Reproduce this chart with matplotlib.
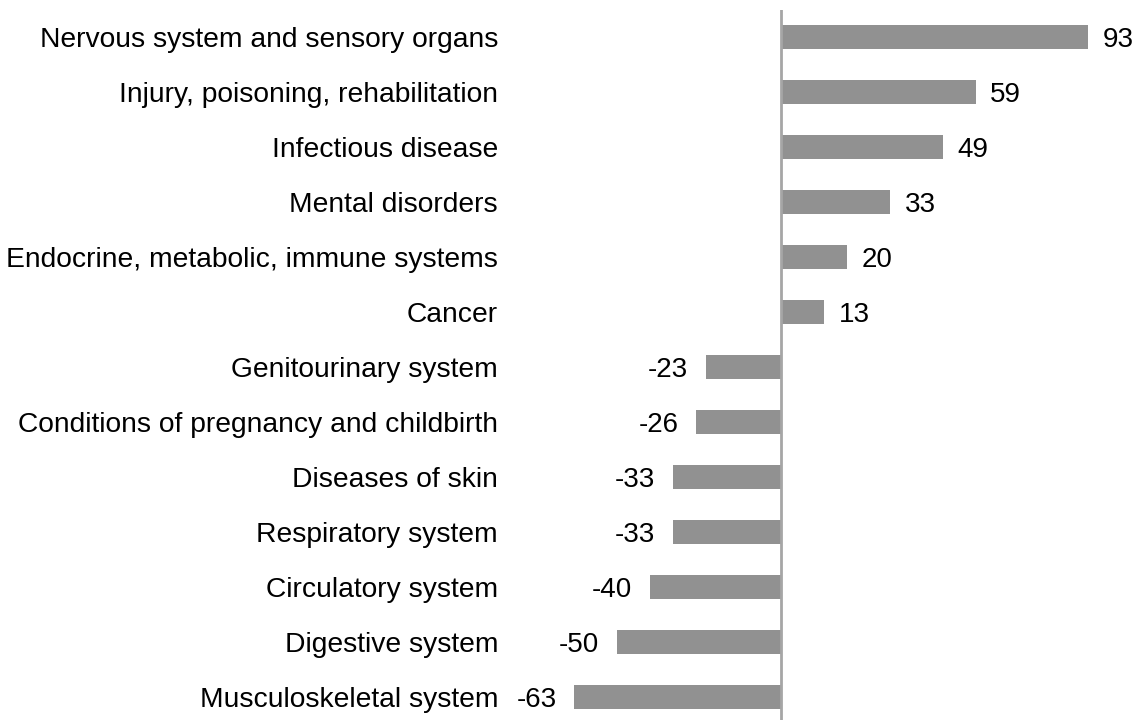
import matplotlib
matplotlib.use("Agg")
import matplotlib.pyplot as plt

# ============================================================
# Data
# ============================================================

categories = [
    "Nervous system and sensory organs",
    "Injury, poisoning, rehabilitation",
    "Infectious disease",
    "Mental disorders",
    "Endocrine, metabolic, immune systems",
    "Cancer",
    "Genitourinary system",
    "Conditions of pregnancy and childbirth",
    "Diseases of skin",
    "Respiratory system",
    "Circulatory system",
    "Digestive system",
    "Musculoskeletal system",
]
values = [93, 59, 49, 33, 20, 13, -23, -26, -33, -33, -40, -50, -63]

BAR_COLOR = "#919191"
AXIS_COLOR = "#A6A6A6"
FS = 20
LABEL_FS = 20.3

plt.rcParams["font.family"] = ["Liberation Sans", "DejaVu Sans"]

# ============================================================
# Plot
# ============================================================

W, H = 1136, 720
fig = plt.figure(figsize=(W / 100, H / 100), dpi=100)
ax = fig.add_axes([505 / W, 0, 1 - 505 / W, 710 / H])

y = list(range(len(categories)))
ax.barh(y, values, height=0.44, color=BAR_COLOR, zorder=2)
ax.axvline(0, color=AXIS_COLOR, linewidth=2, zorder=3)

for yi, v in zip(y, values):
    if v >= 0:
        ax.text(v + 4.4, yi, str(v), ha="left", va="center_baseline", fontsize=FS)
    else:
        ax.text(v - 5.3, yi, str(v), ha="right", va="center_baseline", fontsize=FS)

ax.set_xlim(-83.9, 107.6)
ax.set_ylim(12.42, -0.49)
ax.set_yticks(y)
ax.set_yticklabels(categories, fontsize=LABEL_FS)
ax.tick_params(axis="y", length=0, pad=5)
ax.set_xticks([])
for s in ax.spines.values():
    s.set_visible(False)

plt.savefig("out.png", dpi=100)
plt.close()
